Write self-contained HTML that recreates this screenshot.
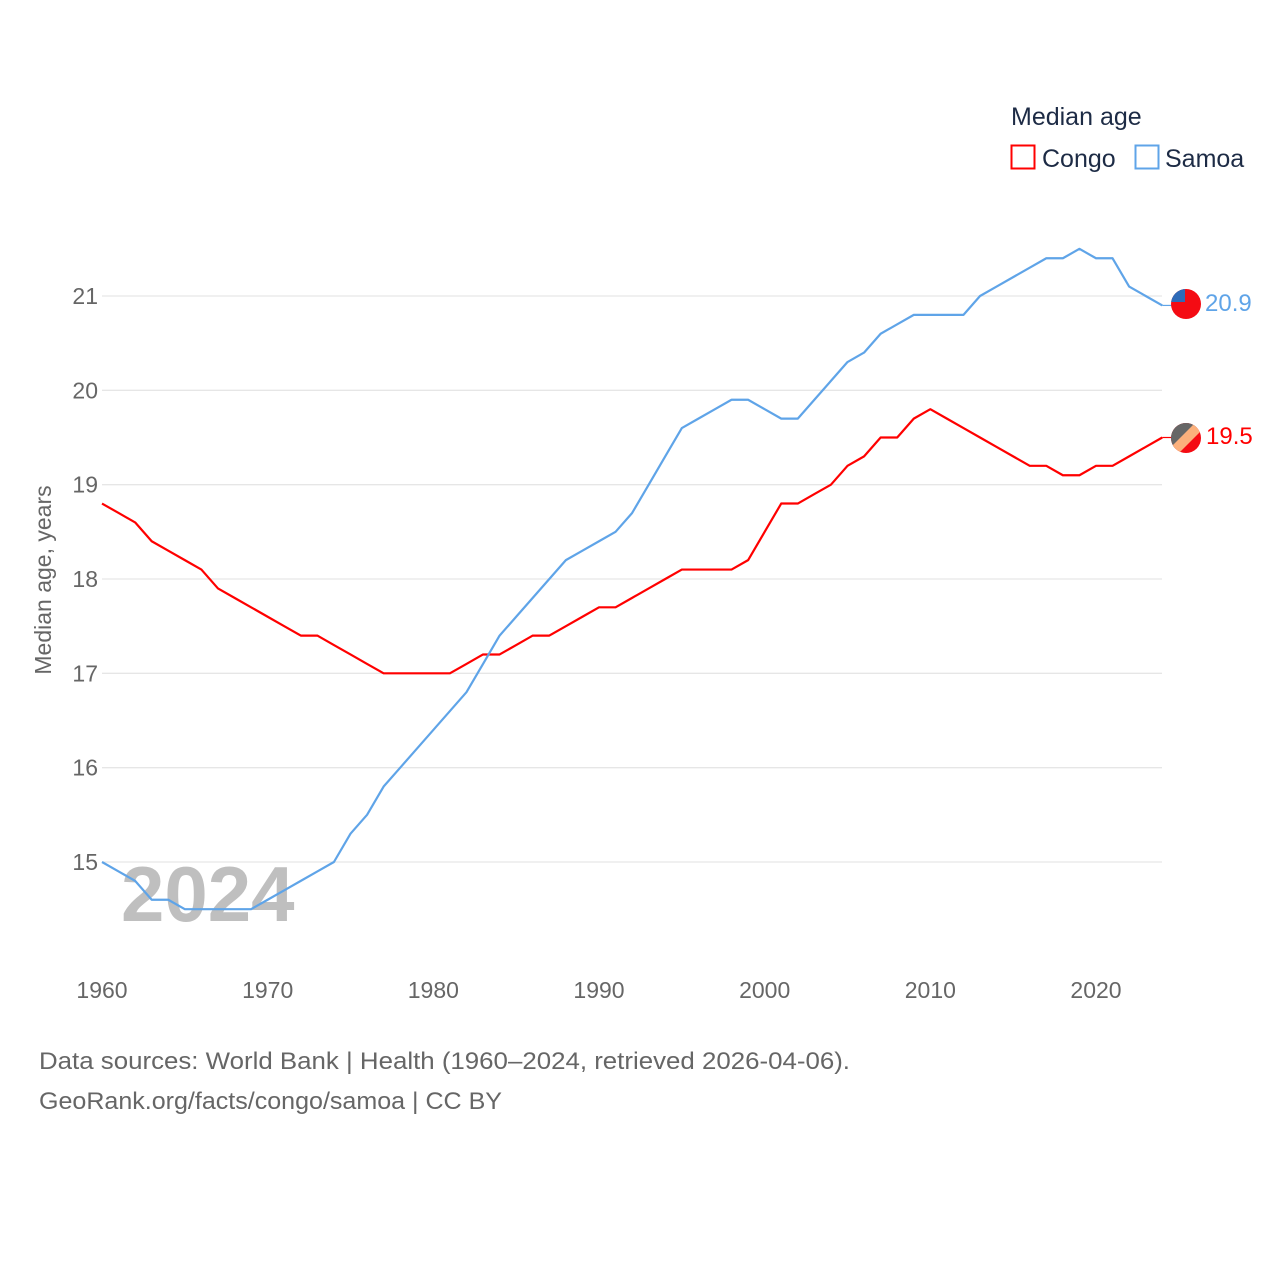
<!DOCTYPE html>
<html><head><meta charset="utf-8"><style>
body{margin:0;background:#fff;font-family:"Liberation Sans",sans-serif}
svg text{font-family:"Liberation Sans",sans-serif}
</style></head><body>
<svg id="chart" width="1280" height="1280" viewBox="0 0 1280 1280" xmlns="http://www.w3.org/2000/svg">
<rect width="1280" height="1280" fill="#fff"/>
<text x="1011" y="125" font-size="25" fill="#1d2b45">Median age</text>
<g>
<rect x="1011.5" y="145.5" width="23" height="23" fill="none" stroke="#f00" stroke-width="2"/>
<text x="1042" y="167" font-size="25" fill="#1d2b45">Congo</text></g>
<g>
<rect x="1135.5" y="145.5" width="23" height="23" fill="none" stroke="#5fa4e8" stroke-width="2"/>
<text x="1165" y="167" font-size="25" fill="#1d2b45">Samoa</text></g>
<g id="grid"></g><g id="ylabels"></g><g id="xlabels"></g>
<text x="121" y="921" font-size="78" font-weight="bold" fill="#b4b4b4" opacity="0.85">2024</text>
<g id="lines"></g>
<text transform="translate(51,580) rotate(-90)" text-anchor="middle" font-size="23" fill="#666">Median age, years</text>
<g>
<clipPath id="c1"><circle cx="1186" cy="304" r="15"/></clipPath>
<g clip-path="url(#c1)"><rect x="1170" y="288" width="32" height="32" fill="#f40b13"/><rect x="1170" y="288" width="15" height="14" fill="#2e6bb8"/></g></g>
<g>
<clipPath id="c2"><circle cx="1186" cy="438" r="15"/></clipPath>
<g clip-path="url(#c2)"><rect x="1170" y="422" width="32" height="32" fill="#f40b13"/><polygon points="1170,422 1202,422 1170,454" fill="#666"/><polygon points="1196,422 1204,428 1176,456 1168,450" fill="#fbb07c"/></g></g>
<text x="1205" y="311" font-size="24" fill="#5fa4e8">20.9</text>
<text x="1206" y="444" font-size="24" fill="#f00">19.5</text>
<text x="39" y="1069" font-size="24" fill="#666" textLength="811" lengthAdjust="spacingAndGlyphs">Data sources: World Bank | Health (1960–2024, retrieved 2026-04-06).</text>
<text x="39" y="1109" font-size="24" fill="#666" textLength="463" lengthAdjust="spacingAndGlyphs">GeoRank.org/facts/congo/samoa | CC BY</text>
</svg>
<script>
const years=[];for(let y=1960;y<=2024;y++)years.push(y);
const congo=[18.8,18.7,18.6,18.4,18.3,18.2,18.1,17.9,17.8,17.7,17.6,17.5,17.4,17.4,17.3,17.2,17.1,17.0,17.0,17.0,17.0,17.0,17.1,17.2,17.2,17.3,17.4,17.4,17.5,17.6,17.7,17.7,17.8,17.9,18.0,18.1,18.1,18.1,18.1,18.2,18.5,18.8,18.8,18.9,19.0,19.2,19.3,19.5,19.5,19.7,19.8,19.7,19.6,19.5,19.4,19.3,19.2,19.2,19.1,19.1,19.2,19.2,19.3,19.4,19.5];
const samoa=[15.0,14.9,14.8,14.6,14.6,14.5,14.5,14.5,14.5,14.5,14.6,14.7,14.8,14.9,15.0,15.3,15.5,15.8,16.0,16.2,16.4,16.6,16.8,17.1,17.4,17.6,17.8,18.0,18.2,18.3,18.4,18.5,18.7,19.0,19.3,19.6,19.7,19.8,19.9,19.9,19.8,19.7,19.7,19.9,20.1,20.3,20.4,20.6,20.7,20.8,20.8,20.8,20.8,21.0,21.1,21.2,21.3,21.4,21.4,21.5,21.4,21.4,21.1,21.0,20.9];
const yTicks=[15,16,17,18,19,20,21];
const xTicks=[1960,1970,1980,1990,2000,2010,2020];
const X=y=>102+(y-1960)*(1096-102)/60;
const Y=v=>862-(v-15)*(862-296)/6;
const NS="http://www.w3.org/2000/svg";
function mk(t,a,p){const e=document.createElementNS(NS,t);for(const k in a)e.setAttribute(k,a[k]);p.appendChild(e);return e;}
const grid=document.getElementById('grid'),yl=document.getElementById('ylabels'),xl=document.getElementById('xlabels'),ln=document.getElementById('lines');
yTicks.forEach(v=>{
const g=mk('line',{x1:102,x2:1162,y1:Y(v),y2:Y(v),stroke:'#e6e6e6','stroke-width':1.3},grid);


const t=mk('text',{x:98,y:Y(v)+8,'text-anchor':'end','font-size':23,fill:'#666'},yl);t.textContent=v;


});
xTicks.forEach(v=>{
const t=mk('text',{x:X(v),y:998,'text-anchor':'middle','font-size':23,fill:'#666'},xl);t.textContent=v;


});
function line(d,c,name){
const p=mk('polyline',{points:d.map((v,i)=>X(years[i])+','+Y(v)).join(' '),fill:'none',stroke:c,'stroke-width':2.2,'stroke-linejoin':'round'},ln);


const last=d[d.length-1];
mk('line',{x1:X(2024),x2:1172,y1:Y(last),y2:Y(last),stroke:c,'stroke-width':1.2},ln);
}
line(congo,'#f00','congo-line');
line(samoa,'#5fa4e8','samoa-line');
</script>
</body></html>
